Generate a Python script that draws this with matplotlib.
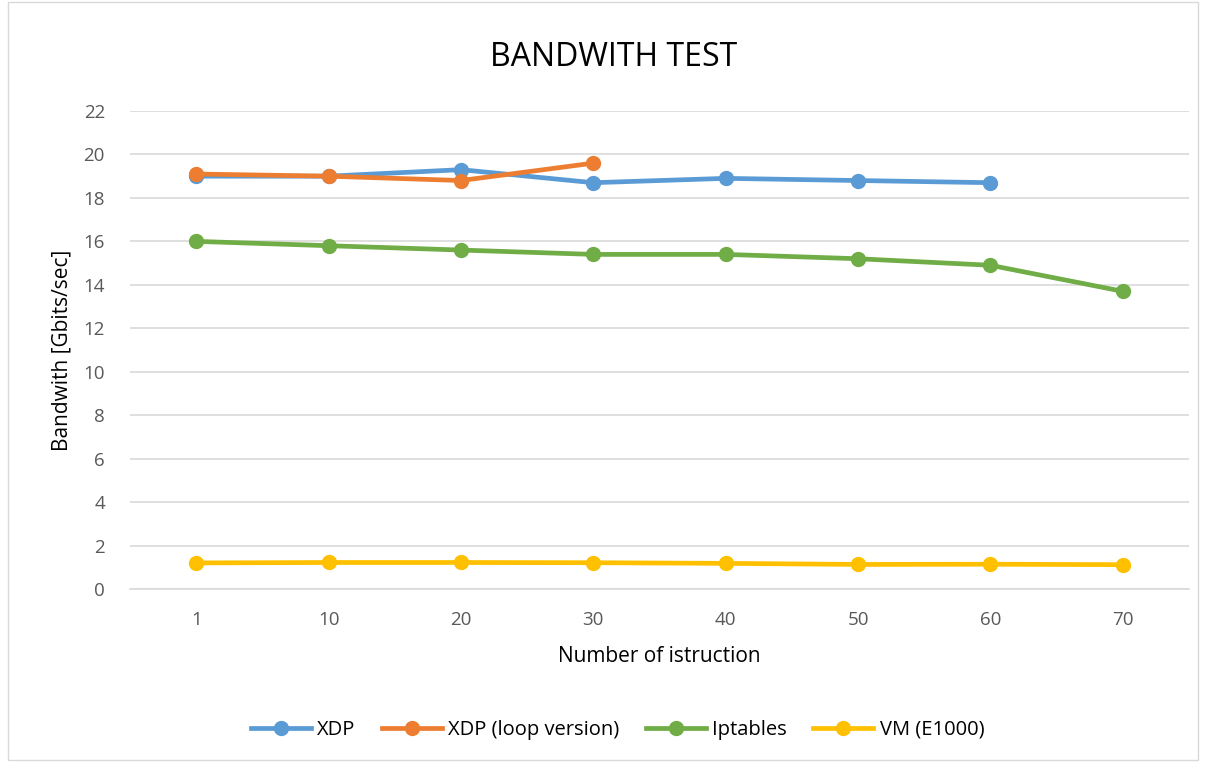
import matplotlib
matplotlib.use("Agg")
import matplotlib.pyplot as plt
from matplotlib.patches import Rectangle

# Данные
CATEGORIES = ["1", "10", "20", "30", "40", "50", "60", "70"]
XDP = [19.0, 19.0, 19.3, 18.7, 18.9, 18.8, 18.7]
XDP_LOOP = [19.1, 19.0, 18.8, 19.6]
IPTABLES = [16.0, 15.8, 15.6, 15.4, 15.4, 15.2, 14.9, 13.7]
VM_E1000 = [1.2, 1.22, 1.22, 1.21, 1.18, 1.13, 1.14, 1.12]

SERIES = [
    ("XDP", XDP, "#5B9BD5"),
    ("XDP (loop version)", XDP_LOOP, "#ED7D31"),
    ("Iptables", IPTABLES, "#70AD47"),
    ("VM (E1000)", VM_E1000, "#FFC000"),
]

plt.rcParams["font.family"] = ["Open Sans", "DejaVu Sans"]

fig = plt.figure(figsize=(12.06, 7.62), dpi=100)
ax = fig.add_axes([130 / 1206, 1 - 589 / 762, (1189 - 130) / 1206, (589 - 111) / 762])

# рамка вокруг всей диаграммы
fig.patches.append(Rectangle((8 / 1206, 0.002), 1 - 16 / 1206, 0.996,
                             transform=fig.transFigure, fill=False,
                             edgecolor="#d9d9d9", linewidth=1))

for name, vals, color in SERIES:
    ax.plot(range(len(vals)), vals, "-o", color=color, linewidth=3.4,
            markersize=10, label=name)

ax.set_xlim(-0.5, len(CATEGORIES) - 0.5)
ax.set_ylim(0, 22)
ax.set_xticks(range(len(CATEGORIES)))
ax.set_xticklabels(CATEGORIES)
ax.set_yticks(range(0, 23, 2))
ax.tick_params(length=0, labelsize=13.5, colors="#595959")
ax.tick_params(axis="y", pad=18)
ax.tick_params(axis="x", pad=16)
ax.grid(axis="y", color="#d9d9d9", linewidth=1.2)
ax.set_axisbelow(True)
for s in ["top", "right", "left"]:
    ax.spines[s].set_visible(False)
ax.spines["bottom"].set_color("#d9d9d9")
ax.spines["bottom"].set_linewidth(1.2)

ax.set_xlabel("Number of istruction", fontsize=15, color="black", labelpad=12)
ax.set_ylabel("Bandwith [Gbits/sec]", fontsize=15, color="black", labelpad=8)
fig.text(0.509, 1 - 57 / 762, "BANDWITH TEST", ha="center", va="center",
         fontsize=23, color="black")

fig.legend(loc="center", bbox_to_anchor=(0.512, 1 - 730 / 762), ncol=4,
           frameon=False, fontsize=14.5, handlelength=3, columnspacing=1.3,
           handletextpad=0.3)

fig.savefig("out.png", dpi=100)
